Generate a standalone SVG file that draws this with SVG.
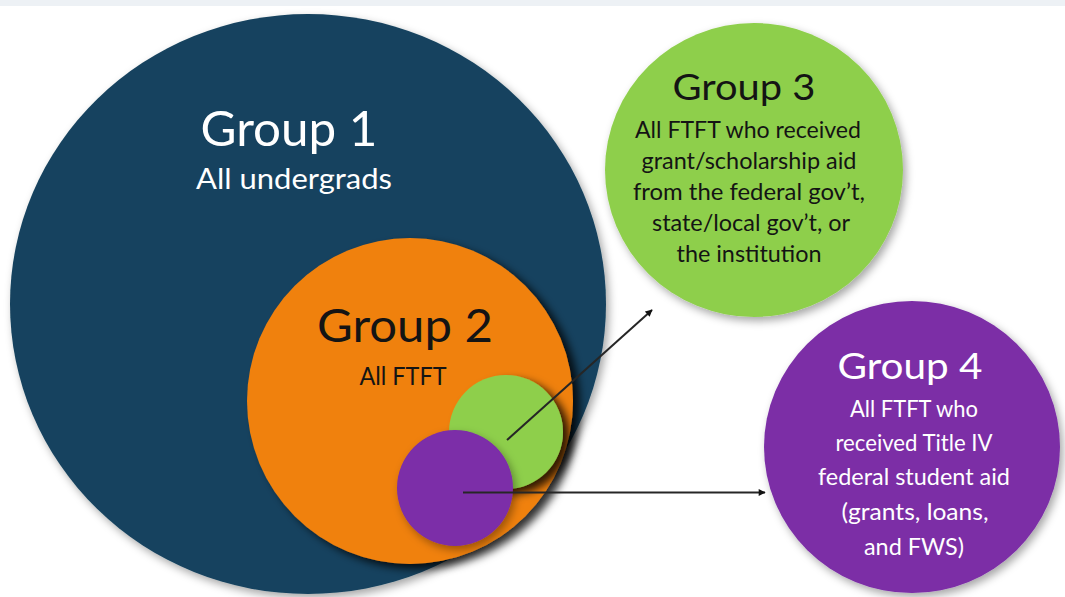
<svg xmlns="http://www.w3.org/2000/svg" width="1065" height="597" viewBox="0 0 1065 597">
<defs>
<style>
.t{font-family:Lato,"Open Sans","Liberation Sans",sans-serif;text-anchor:middle}
.w{fill:#ffffff}
.k{fill:#141414}
.conn{stroke:#262626;stroke-width:2;fill:none}
</style>
<filter id="sh" x="-20%" y="-20%" width="140%" height="140%">
<feDropShadow dx="7" dy="5" stdDeviation="4" flood-color="#000" flood-opacity="0.8"/>
</filter>
<filter id="sh2" x="-20%" y="-20%" width="140%" height="140%">
<feDropShadow dx="3" dy="4" stdDeviation="4" flood-color="#000" flood-opacity="0.35"/>
</filter>
<marker id="ah" viewBox="0 0 10 10" refX="9" refY="5" markerWidth="8" markerHeight="7" markerUnits="userSpaceOnUse" orient="auto">
<path d="M0,0 L10,5 L0,10 z" fill="#111"/>
</marker>
</defs>
<rect x="0" y="0" width="1065" height="597" fill="#ffffff"/>
<rect x="0" y="0" width="1065" height="6" fill="#edf1f5"/>
<g id="group1">
<ellipse cx="308" cy="304" rx="298" ry="290" fill="#17435e" filter="url(#sh2)"/>
<text class="t w" x="289" y="146" font-size="48" textLength="177" lengthAdjust="spacingAndGlyphs">Group 1</text>
<text class="t w" x="294" y="189" font-size="28" textLength="196" lengthAdjust="spacingAndGlyphs">All undergrads</text>
</g>
<g id="group2">
<circle cx="410" cy="401" r="163" fill="#f0810f" filter="url(#sh)"/>
<text class="t k" x="405" y="342" font-size="46" textLength="176" lengthAdjust="spacingAndGlyphs">Group 2</text>
<text class="t k" x="403" y="385" font-size="25" textLength="87" lengthAdjust="spacingAndGlyphs">All FTFT</text>
</g>
<g id="group3-inner">
<circle cx="506" cy="432" r="57" fill="#8ecf4c" filter="url(#sh)"/>
</g>
<g id="group4-inner">
<circle cx="455" cy="488" r="58" fill="#7b2da8" filter="url(#sh2)"/>
</g>
<g id="group3">
<ellipse cx="754" cy="170" rx="149" ry="147" fill="#8ecf4c" filter="url(#sh2)"/>
<text class="t k" x="744" y="100" font-size="37" textLength="143" lengthAdjust="spacingAndGlyphs">Group 3</text>
<text class="t k" x="748" y="138" font-size="22.5" textLength="226" lengthAdjust="spacingAndGlyphs">All FTFT who received</text>
<text class="t k" x="749" y="169" font-size="22.5" textLength="215" lengthAdjust="spacingAndGlyphs">grant/scholarship aid</text>
<text class="t k" x="749" y="200" font-size="22.5" textLength="232" lengthAdjust="spacingAndGlyphs">from the federal gov’t,</text>
<text class="t k" x="751" y="231" font-size="22.5" textLength="198" lengthAdjust="spacingAndGlyphs">state/local gov’t, or</text>
<text class="t k" x="749" y="262" font-size="22.5" textLength="145" lengthAdjust="spacingAndGlyphs">the institution</text>
</g>
<g id="group4">
<ellipse cx="912" cy="447" rx="148" ry="146" fill="#7b2fa6" filter="url(#sh2)"/>
<text class="t w" x="910" y="379" font-size="36" textLength="145" lengthAdjust="spacingAndGlyphs">Group 4</text>
<text class="t w" x="914" y="417" font-size="23" textLength="128" lengthAdjust="spacingAndGlyphs">All FTFT who</text>
<text class="t w" x="914" y="451" font-size="23" textLength="157" lengthAdjust="spacingAndGlyphs">received Title IV</text>
<text class="t w" x="914" y="485" font-size="23" textLength="192" lengthAdjust="spacingAndGlyphs">federal student aid</text>
<text class="t w" x="915" y="520" font-size="23" textLength="147" lengthAdjust="spacingAndGlyphs">(grants, loans,</text>
<text class="t w" x="914" y="555" font-size="23" textLength="100" lengthAdjust="spacingAndGlyphs">and FWS)</text>
</g>
<g id="connectors">
<line class="conn" x1="507" y1="440" x2="652" y2="310" marker-end="url(#ah)"/>
<line class="conn" x1="463" y1="492.5" x2="765" y2="492.5" marker-end="url(#ah)"/>
</g>
</svg>
